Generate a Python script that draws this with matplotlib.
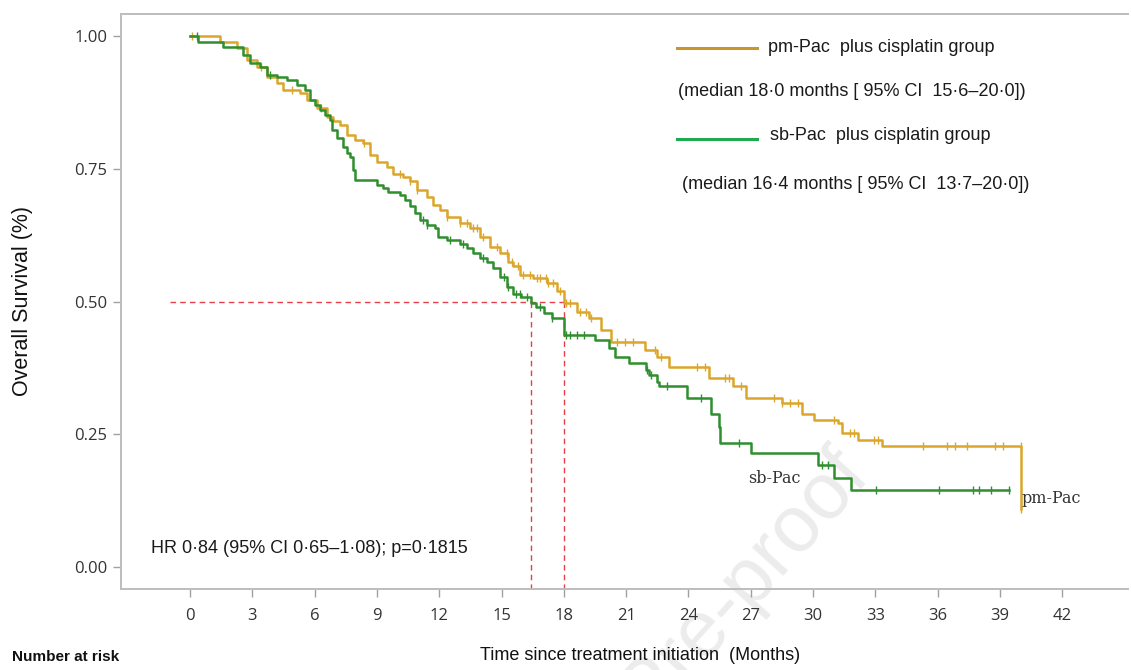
import numpy as np
import matplotlib
matplotlib.use("Agg")
import matplotlib.pyplot as plt

# survival steps (months, survival after the step)
pm_time = [0, 1.44, 2.25, 2.73, 3.21, 3.69, 4.17, 4.49, 5.30, 5.62, 6.10, 6.58,
           6.90, 7.22, 7.54, 7.94, 8.35, 8.67, 8.99, 9.47, 9.79, 10.27, 10.59,
           10.91, 11.40, 11.72, 12.04, 12.36, 13.00, 13.48, 13.96, 14.44, 14.93,
           15.31, 15.57, 15.89, 16.53, 17.17, 17.65, 18.03, 18.61, 19.19, 19.77,
           20.26, 21.90, 22.48, 23.06, 25.00, 26.16, 26.75, 28.49, 29.46, 30.04,
           31.20, 31.39, 32.17, 33.33, 40.0]
pm_surv = [1.0, 0.989, 0.977, 0.955, 0.942, 0.923, 0.911, 0.898, 0.892, 0.879,
           0.864, 0.848, 0.839, 0.832, 0.814, 0.804, 0.798, 0.776, 0.763, 0.754,
           0.741, 0.735, 0.726, 0.710, 0.697, 0.682, 0.672, 0.660, 0.647, 0.638,
           0.622, 0.603, 0.591, 0.575, 0.566, 0.550, 0.544, 0.534, 0.520, 0.498,
           0.481, 0.468, 0.446, 0.424, 0.409, 0.396, 0.377, 0.355, 0.340, 0.318,
           0.308, 0.289, 0.277, 0.271, 0.252, 0.239, 0.227, 0.110]
pm_censor = [0.1, 3.4, 4.9, 6.3, 8.4, 10.11, 10.59, 10.91, 12.36, 13.00, 13.32,
             13.64, 13.80, 14.12, 14.76, 15.25, 15.50, 15.80, 16.05, 16.37,
             16.69, 16.86, 17.15, 17.25, 17.49, 17.81, 18.12, 18.31, 18.80,
             19.09, 19.29, 20.55, 20.93, 21.32, 22.39, 22.68, 24.42, 24.81,
             25.78, 25.97, 26.55, 28.10, 28.49, 28.87, 29.26, 31.01, 31.78,
             31.98, 32.95, 33.14, 35.27, 36.43, 36.82, 37.40, 38.76, 39.15, 40.0]

sb_time = [0, 0.40, 1.60, 2.57, 2.89, 3.37, 3.69, 4.17, 4.65, 5.13, 5.54, 5.78,
           6.02, 6.26, 6.50, 6.74, 6.82, 7.06, 7.38, 7.54, 7.70, 7.86, 7.94,
           8.99, 9.31, 9.55, 10.11, 10.35, 10.59, 10.83, 11.07, 11.40, 11.80,
           11.96, 12.36, 13.00, 13.32, 13.64, 13.96, 14.28, 14.60, 14.93, 15.25,
           15.57, 15.95, 16.40, 16.67, 17.06, 17.44, 17.99, 19.48, 20.16, 20.45,
           21.13, 21.94, 22.09, 22.48, 22.58, 23.93, 25.10, 25.49, 25.54, 27.03,
           30.23, 31.00, 31.84]
sb_surv = [1.0, 0.989, 0.980, 0.965, 0.949, 0.942, 0.927, 0.923, 0.917, 0.908,
           0.898, 0.879, 0.870, 0.861, 0.851, 0.842, 0.823, 0.807, 0.791, 0.779,
           0.773, 0.748, 0.729, 0.719, 0.713, 0.707, 0.701, 0.691, 0.679, 0.666,
           0.654, 0.644, 0.638, 0.622, 0.616, 0.609, 0.600, 0.591, 0.581, 0.575,
           0.563, 0.547, 0.528, 0.515, 0.509, 0.497, 0.490, 0.478, 0.468, 0.437,
           0.427, 0.412, 0.396, 0.384, 0.371, 0.362, 0.349, 0.340, 0.318, 0.289,
           0.264, 0.233, 0.214, 0.192, 0.167, 0.145]
sb_end = 39.43
sb_censor = [0.32, 3.85, 11.23, 11.4, 12.52, 13.16, 14.12, 15.12, 15.31, 15.7,
             15.89, 16.21, 16.86, 17.44, 18.12, 18.31, 18.61, 18.99, 21.99,
             22.19, 22.97, 24.61, 26.45, 30.43, 30.72, 33.04, 36.04, 37.69,
             37.98, 38.56, 39.43]

medians = [18.0, 16.4]
x_ticks = list(range(0, 43, 3))
y_ticks = [0.0, 0.25, 0.5, 0.75, 1.0]

GOLD = "#DCA62C"
GREEN = "#2F8F2F"

plt.rcParams['font.family'] = ['Liberation Sans', 'DejaVu Sans']

fig = plt.figure(figsize=(11.31, 6.70), dpi=100)
ax = fig.add_axes([121 / 1131, 1 - 589 / 670, 1007 / 1131, 575 / 670])
ax.set_facecolor("none")


def surv_at(times, surv, t):
    idx = np.searchsorted(times, t, side="right") - 1
    return np.array(surv)[idx]


# pm-Pac curve
pm_t = np.array(pm_time)
pm_s = np.array(pm_surv)
ax.step(pm_t, pm_s, where="post", color=GOLD, lw=1.8, zorder=3)
pm_cy = [surv_at(pm_t, pm_s, t - 1e-6) if t >= 40 else surv_at(pm_t, pm_s, t)
         for t in pm_censor]
ax.plot(pm_censor, pm_cy, ls="none", marker="|", ms=6, mew=1.0, color=GOLD, zorder=3)
ax.plot([40.0], [0.110], ls="none", marker="|", ms=6, mew=1.0, color=GOLD, zorder=3)

# sb-Pac curve
sb_t = np.array(sb_time + [sb_end])
sb_s = np.array(sb_surv + [sb_surv[-1]])
ax.step(sb_t, sb_s, where="post", color=GREEN, lw=1.8, zorder=4)
sb_cy = [surv_at(sb_t, sb_s, t) for t in sb_censor]
ax.plot(sb_censor, sb_cy, ls="none", marker="|", ms=6, mew=1.0, color=GREEN, zorder=4)

# median guides
red = "#E5404A"
ax.plot([-0.96, medians[0]], [0.5, 0.5], color=red, lw=1, ls=(0, (4, 3)), zorder=2)
for m in medians:
    ax.plot([m, m], [0.5, -0.0414], color=red, lw=1, ls=(0, (4, 3)), zorder=2)

ax.set_xlim(-3.32, 45.16)
ax.set_ylim(-0.0414, 1.0414)
ax.set_xticks(x_ticks)
ax.set_yticks(y_ticks)
ax.set_yticklabels([f"{v:.2f}" for v in y_ticks])

for side in ["left", "bottom", "top"]:
    ax.spines[side].set_color("#BDBDBD")
    ax.spines[side].set_linewidth(1.4)
ax.spines["right"].set_visible(False)
ax.tick_params(axis="both", colors="#A0A0A0", length=6, width=1,
               labelcolor="#333333", labelsize=12)
ax.tick_params(axis="x", pad=8)
ax.tick_params(axis="y", pad=4)
for lab in ax.get_xticklabels() + ax.get_yticklabels():
    lab.set_family(["Open Sans", "DejaVu Sans"])

ax.set_ylabel("Overall Survival (%)", fontsize=15.5, color="#111111")
ax.yaxis.set_label_coords(-0.087, 0.5)

# legend block
ax.plot([0.552, 0.632], [0.941, 0.941], transform=ax.transAxes, color="#C9962A", lw=2.2)
ax.plot([0.552, 0.632], [0.782, 0.782], transform=ax.transAxes, color="#1FAA52", lw=2.2)
leg_kw = dict(transform=ax.transAxes, fontsize=13, va="center", color="#1A1A1A")
ax.text(0.6425, 0.941, "pm-Pac  plus cisplatin group", **leg_kw)
ax.text(0.553, 0.865, "(median 18\u00b70 months [ 95% CI  15\u00b76\u201320\u00b70])", **leg_kw)
ax.text(0.6445, 0.789, "sb-Pac  plus cisplatin group", **leg_kw)
ax.text(0.557, 0.703, "(median 16\u00b74 months [ 95% CI  13\u00b77\u201320\u00b70])", **leg_kw)

ax.text(0.0298, 0.0696, "HR 0\u00b784 (95% CI 0\u00b765\u20131\u00b708); p=0\u00b71815", **leg_kw)

ax.text(0.6226, 0.193, "sb-Pac", transform=ax.transAxes, fontsize=11.5, va="center",
        family=["DejaVu Serif"], color="#333333")
ax.text(0.8947, 0.158, "pm-Pac", transform=ax.transAxes, fontsize=11.5, va="center",
        family=["DejaVu Serif"], color="#333333")

fig.text(640 / 1131, 1 - 655 / 670, "Time since treatment initiation  (Months)",
         fontsize=13, ha="center", va="center", color="#111111")
fig.text(12 / 1131, 1 - 657 / 670, "Number at risk", fontsize=11, fontweight="bold",
         ha="left", va="center", color="#111111")

# faint watermark, mostly running off the bottom edge as in the source
fig.text(872 / 1131, 1 - 478 / 670, "Journal Pre-proof", fontsize=57, rotation=48,
         rotation_mode="anchor", ha="right", va="baseline", color="#ECECEC", zorder=-1)

fig.savefig("out.png", dpi=100, facecolor="white")
